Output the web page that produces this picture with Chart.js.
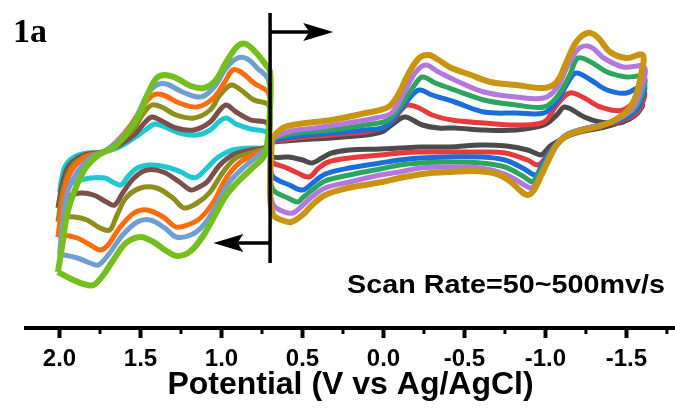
<!DOCTYPE html>
<html>
<head>
<meta charset="utf-8">
<script src="https://cdn.jsdelivr.net/npm/chart.js@4.4.1/dist/chart.umd.min.js"></script>
<style>
  html, body { margin: 0; padding: 0; background: #fff; }
  #wrap { width: 675px; height: 410px; }
</style>
</head>
<body>
<div id="wrap"><canvas id="cvChart" width="675" height="410"></canvas></div>
<script>
// [potential (V vs Ag/AgCl), current (arb. units)] pairs, one closed loop per scan rate
// left window (0.7 V .. 2.0 V)
const leftCyan = [[2.00,-12],[1.97,12],[1.92,22],[1.83,27],[1.73,28],[1.63,33],[1.54,42],[1.47,50],[1.41,56],[1.35,53],[1.26,47],[1.15,45],[1.07,50],[1.01,59],[0.97,62],[0.91,56],[0.82,51],[0.72,48],
  [0.71,42],[0.72,33],
  [0.82,32],[0.93,30],[1.02,23],[1.09,12],[1.15,3],[1.19,3],[1.25,8],[1.34,13],[1.44,15],[1.52,12],[1.58,3],[1.62,-5],[1.66,-3],[1.72,2],[1.81,2],[1.91,-2],[1.99,-8],[2.00,-12]];
const leftBrown = [[2.01,-28],[1.98,-2],[1.94,15],[1.85,25],[1.73,28],[1.63,35],[1.54,45],[1.47,58],[1.43,63],[1.38,60],[1.28,52],[1.17,50],[1.07,58],[1.01,70],[0.97,75],[0.91,68],[0.82,60],[0.72,57],
  [0.71,45],[0.72,33],
  [0.82,30],[0.93,25],[1.01,15],[1.09,-2],[1.15,-8],[1.19,-10],[1.26,-2],[1.36,8],[1.46,10],[1.54,2],[1.61,-13],[1.66,-25],[1.71,-22],[1.79,-15],[1.87,-13],[1.96,-18],[2.01,-28]];
const leftOlive = [[2.01,-42],[1.98,-12],[1.93,12],[1.85,23],[1.73,28],[1.65,37],[1.55,50],[1.48,67],[1.43,75],[1.37,73],[1.28,65],[1.17,62],[1.07,70],[1.01,85],[0.94,95],[0.88,90],[0.80,80],[0.71,75],
  [0.70,52],[0.72,33],
  [0.80,28],[0.91,22],[0.99,8],[1.07,-12],[1.15,-23],[1.23,-28],[1.30,-18],[1.40,-8],[1.50,-8],[1.59,-18],[1.65,-37],[1.69,-50],[1.75,-48],[1.83,-40],[1.91,-37],[1.99,-38],[2.01,-42]];
const leftOrange = [[2.01,-57],[1.98,-22],[1.94,5],[1.85,22],[1.73,28],[1.65,38],[1.56,55],[1.48,75],[1.42,85],[1.36,85],[1.26,77],[1.15,73],[1.05,82],[0.98,98],[0.93,110],[0.88,108],[0.80,97],[0.71,87],
  [0.70,58],[0.72,33],
  [0.78,27],[0.89,17],[0.97,2],[1.05,-22],[1.13,-38],[1.21,-45],[1.28,-47],[1.36,-37],[1.46,-30],[1.54,-33],[1.63,-48],[1.70,-65],[1.75,-70],[1.81,-65],[1.89,-58],[1.98,-55],[2.01,-57]];
const leftBlue = [[2.00,-75],[1.98,-42],[1.95,-12],[1.89,8],[1.81,22],[1.71,30],[1.63,40],[1.54,58],[1.46,85],[1.40,95],[1.34,96],[1.24,88],[1.13,83],[1.05,92],[0.97,112],[0.90,122],[0.84,121],[0.78,112],[0.71,100],
  [0.70,65],[0.72,33],
  [0.77,25],[0.86,13],[0.95,-2],[1.03,-25],[1.11,-45],[1.19,-55],[1.28,-57],[1.35,-48],[1.44,-40],[1.52,-42],[1.61,-55],[1.69,-73],[1.76,-85],[1.81,-83],[1.89,-78],[1.97,-75],[2.00,-75]];
const leftGreen = [[2.01,-92],[1.98,-62],[1.95,-32],[1.90,-8],[1.84,12],[1.76,25],[1.67,32],[1.59,45],[1.51,65],[1.45,88],[1.40,102],[1.35,105],[1.28,102],[1.19,94],[1.11,92],[1.04,99],[0.97,118],[0.90,134],[0.85,136],[0.79,128],[0.73,116],[0.70,108],
  [0.70,72],[0.72,33],
  [0.74,23],[0.81,12],[0.90,-2],[0.97,-15],[1.04,-35],[1.11,-55],[1.19,-71],[1.27,-76],[1.34,-71],[1.42,-62],[1.50,-57],[1.59,-63],[1.66,-78],[1.73,-95],[1.79,-105],[1.85,-104],[1.94,-98],[2.01,-92]];

// right window (0.7 V .. -1.6 V)
const rightGray = [[0.69,38],[0.53,40],[0.32,42],[0.11,45],[0.01,48],[-0.05,55],[-0.11,62],[-0.14,63],[-0.18,60],[-0.24,55],[-0.34,52],[-0.44,52],[-0.62,50],[-0.82,50],[-0.99,55],[-1.07,65],[-1.12,73],[-1.24,63],[-1.34,58],[-1.48,58],[-1.54,68],[-1.60,75],
  [-1.57,67],[-1.52,61],[-1.43,56],[-1.34,52],[-1.21,48],[-1.14,44],[-1.08,39],[-1.03,34],[-0.99,27],[-0.97,25],[-0.89,30],[-0.76,34],[-0.60,35],[-0.41,33],[-0.23,33],[-0.10,32],[0.02,31],[0.21,30],[0.32,27],[0.38,22],[0.44,17],[0.50,20],[0.59,23],[0.68,23],[0.70,30],[0.69,38]];
const rightRed = [[0.69,38],[0.53,42],[0.32,45],[0.11,48],[0.01,52],[-0.05,58],[-0.11,70],[-0.15,75],[-0.22,72],[-0.30,65],[-0.42,60],[-0.62,57],[-0.82,55],[-0.99,58],[-1.07,75],[-1.15,87],[-1.24,82],[-1.34,73],[-1.48,70],[-1.61,87],
  [-1.59,73],[-1.55,65],[-1.46,59],[-1.34,54],[-1.21,49],[-1.14,45],[-1.09,39],[-1.03,30],[-0.99,20],[-0.95,15],[-0.89,20],[-0.75,27],[-0.60,28],[-0.41,28],[-0.23,28],[-0.10,27],[0.02,25],[0.21,22],[0.34,18],[0.40,12],[0.46,3],[0.53,7],[0.61,13],[0.68,17],[0.70,25],[0.69,38]];
const rightBlue = [[0.69,38],[0.67,40],[0.53,44],[0.32,47],[0.11,50],[-0.01,53],[-0.09,67],[-0.15,80],[-0.22,90],[-0.30,85],[-0.44,78],[-0.62,68],[-0.82,67],[-0.99,67],[-1.07,78],[-1.14,98],[-1.19,107],[-1.28,100],[-1.38,90],[-1.50,87],[-1.61,95],
  [-1.59,78],[-1.55,68],[-1.46,60],[-1.34,55],[-1.21,50],[-1.14,46],[-1.09,40],[-1.03,29],[-0.98,16],[-0.94,5],[-0.87,11],[-0.75,20],[-0.60,23],[-0.41,23],[-0.23,22],[-0.10,20],[0.02,17],[0.21,12],[0.36,6],[0.43,-2],[0.50,-10],[0.58,-5],[0.68,3],[0.70,15],[0.69,38]];
const rightGreen = [[0.69,38],[0.67,42],[0.53,47],[0.32,50],[0.11,55],[-0.03,60],[-0.11,75],[-0.18,92],[-0.24,103],[-0.32,97],[-0.44,90],[-0.62,80],[-0.82,75],[-0.99,73],[-1.07,83],[-1.15,105],[-1.20,122],[-1.28,118],[-1.38,108],[-1.50,103],[-1.61,103],
  [-1.59,83],[-1.54,70],[-1.45,61],[-1.34,55],[-1.21,50],[-1.14,46],[-1.09,40],[-1.03,27],[-0.98,12],[-0.94,2],[-0.92,-2],[-0.86,4],[-0.75,13],[-0.60,17],[-0.41,18],[-0.23,17],[-0.10,15],[0.02,11],[0.21,5],[0.36,-1],[0.44,-10],[0.50,-18],[0.53,-22],[0.59,-18],[0.68,-10],[0.70,5],[0.69,38]];
const rightPurple = [[0.69,38],[0.67,43],[0.57,49],[0.42,52],[0.22,57],[0.05,62],[-0.05,67],[-0.13,88],[-0.20,108],[-0.26,115],[-0.34,108],[-0.44,100],[-0.62,88],[-0.82,83],[-0.99,82],[-1.07,92],[-1.14,115],[-1.21,132],[-1.28,133],[-1.36,122],[-1.48,113],[-1.61,113],
  [-1.59,90],[-1.54,72],[-1.45,61],[-1.34,55],[-1.21,50],[-1.14,46],[-1.09,40],[-1.03,25],[-0.98,8],[-0.94,-4],[-0.91,-8],[-0.84,-2],[-0.75,6],[-0.60,12],[-0.41,13],[-0.23,12],[-0.10,8],[0.02,5],[0.21,-2],[0.36,-8],[0.45,-18],[0.51,-27],[0.56,-33],[0.61,-32],[0.68,-25],[0.70,-5],[0.69,38]];
const rightGold = [[0.69,38],[0.67,45],[0.61,53],[0.48,57],[0.32,60],[0.11,67],[-0.03,73],[-0.09,85],[-0.15,105],[-0.22,122],[-0.28,125],[-0.34,120],[-0.42,112],[-0.54,105],[-0.66,98],[-0.82,95],[-0.99,92],[-1.07,98],[-1.13,118],[-1.19,138],[-1.26,147],[-1.32,143],[-1.40,128],[-1.50,122],[-1.60,125],
  [-1.59,105],[-1.56,85],[-1.51,70],[-1.43,60],[-1.34,54],[-1.21,49],[-1.13,44],[-1.07,35],[-1.02,20],[-0.97,3],[-0.93,-10],[-0.89,-15],[-0.84,-10],[-0.78,-1],[-0.70,6],[-0.57,9],[-0.41,8],[-0.29,7],[-0.13,3],[0.01,-2],[0.22,-8],[0.36,-15],[0.44,-25],[0.50,-35],[0.57,-42],[0.63,-40],[0.68,-35],[0.70,-15],[0.69,38]];

const majorTicks = [2.0, 1.5, 1.0, 0.5, 0.0, -0.5, -1.0, -1.5];
const minorTicks = [1.75, 1.25, 0.75, 0.25, -0.25, -0.75, -1.25, -1.75];
const axisTitle = 'Potential (V vs Ag/AgCl)';
const panelLabel = '1a';
const rateNote = 'Scan Rate=50~500mv/s';

// switching marker and scan-direction arrows (data units)
const markerE = 0.70;
const markerTopI = 167, markerBottomI = -83;
const arrowRight = { I: 148, tipE: 0.31 };
const arrowLeft = { I: -63, tipE: 1.05 };

// outermost loops first so they are painted on top
const loops = [
  { data: leftGreen, color: '#74bf1d', width: 6 },
  { data: leftBlue, color: '#6d9fd2', width: 5 },
  { data: leftOrange, color: '#ff6b0f', width: 5 },
  { data: leftOlive, color: '#8e8e1c', width: 5 },
  { data: leftBrown, color: '#7b4f4c', width: 5 },
  { data: leftCyan, color: '#1ec8d0', width: 5 },
  { data: rightGold, color: '#c99510', width: 6 },
  { data: rightPurple, color: '#b278e0', width: 5 },
  { data: rightGreen, color: '#2ea55e', width: 5 },
  { data: rightBlue, color: '#1b6ddc', width: 5 },
  { data: rightRed, color: '#e8393c', width: 5 },
  { data: rightGray, color: '#4b4b4b', width: 5 },
];

function drawArrow(ctx, x0, y0, tipX) {
  const dir = tipX > x0 ? 1 : -1;
  const headLen = 30, half = 9;
  ctx.lineWidth = 3.5;
  ctx.beginPath();
  ctx.moveTo(x0, y0);
  ctx.lineTo(tipX - dir * headLen * 0.8, y0);
  ctx.stroke();
  ctx.beginPath();
  ctx.moveTo(tipX, y0);
  ctx.lineTo(tipX - dir * headLen, y0 - half);
  ctx.lineTo(tipX - dir * headLen * 0.8, y0);
  ctx.lineTo(tipX - dir * headLen, y0 + half);
  ctx.closePath();
  ctx.fill();
}

const cvExtras = {
  id: 'cvExtras',
  afterDatasetsDraw(chart) {
    const { ctx, scales: { x, y } } = chart;
    const xm = x.getPixelForValue(markerE);
    ctx.save();
    ctx.strokeStyle = '#000';
    ctx.fillStyle = '#000';
    ctx.lineWidth = 3.5;
    ctx.beginPath();
    ctx.moveTo(xm, y.getPixelForValue(markerTopI));
    ctx.lineTo(xm, y.getPixelForValue(markerBottomI));
    ctx.stroke();
    drawArrow(ctx, xm, y.getPixelForValue(arrowRight.I), x.getPixelForValue(arrowRight.tipE));
    drawArrow(ctx, xm, y.getPixelForValue(arrowLeft.I), x.getPixelForValue(arrowLeft.tipE));
    ctx.restore();
  },
  afterDraw(chart) {
    const { ctx, scales: { x } } = chart;
    ctx.save();
    // minor ticks
    ctx.strokeStyle = '#000';
    ctx.lineWidth = 3;
    minorTicks.forEach(v => {
      const px = x.getPixelForValue(v);
      ctx.beginPath();
      ctx.moveTo(px, x.top);
      ctx.lineTo(px, x.top + 6);
      ctx.stroke();
    });
    ctx.fillStyle = '#000';
    ctx.textBaseline = 'alphabetic';
    ctx.font = 'bold 34px "Liberation Serif", "Times New Roman", serif';
    ctx.fillText(panelLabel, 13, 42);
    ctx.font = 'bold 25px "Liberation Sans", Arial, sans-serif';
    const w = ctx.measureText(rateNote).width;
    ctx.translate(347, 293);
    ctx.scale(318 / w, 1);
    ctx.fillText(rateNote, 0, 0);
    ctx.restore();
  }
};

new Chart(document.getElementById('cvChart').getContext('2d'), {
  type: 'scatter',
  data: {
    datasets: loops.map(l => ({
      data: l.data.map(([e, i]) => ({ x: e, y: i })),
      borderColor: l.color,
      backgroundColor: l.color,
      borderWidth: l.width,
      showLine: true,
      pointRadius: 0,
      tension: 0.35,
      fill: false,
    })),
  },
  options: {
    responsive: false,
    animation: false,
    layout: { padding: { left: 26, right: 0, top: 0, bottom: 0 } },
    plugins: { legend: { display: false }, tooltip: { enabled: false } },
    scales: {
      x: {
        type: 'linear',
        reverse: true,
        min: -1.80,
        max: 2.207,
        afterBuildTicks: axis => { axis.ticks = majorTicks.map(v => ({ value: v })); },
        afterFit: axis => { axis.height = 82; },
        border: { display: true, color: '#000', width: 4 },
        grid: { drawOnChartArea: false, drawTicks: true, tickLength: 10, tickWidth: 4, tickColor: '#000' },
        ticks: {
          color: '#000',
          padding: 7,
          maxRotation: 0,
          font: { family: '"Liberation Sans", Arial, sans-serif', size: 24, weight: 'bold' },
          callback: v => v.toFixed(1),
        },
        title: {
          display: true,
          text: axisTitle,
          color: '#000',
          padding: { top: 0, bottom: 6 },
          font: { family: '"Liberation Sans", Arial, sans-serif', size: 32, weight: 'bold' },
        },
      },
      y: {
        display: false,
        min: -148,
        max: 180,
      },
    },
  },
  plugins: [cvExtras],
});
</script>
</body>
</html>
